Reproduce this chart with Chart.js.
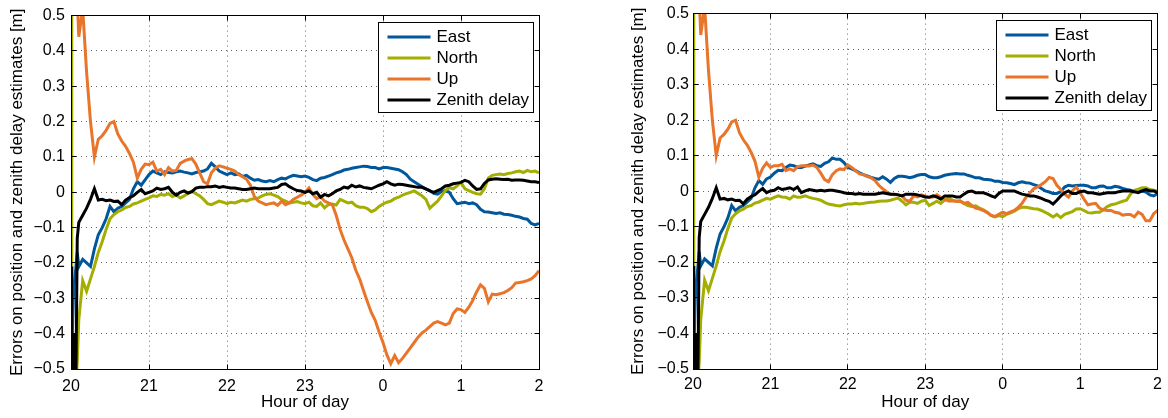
<!DOCTYPE html>
<html>
<head>
<meta charset="utf-8">
<title>Position and zenith delay errors</title>
<script src="https://cdn.jsdelivr.net/npm/chart.js@4.4.1/dist/chart.umd.min.js"></script>
<style>
  html, body { margin: 0; padding: 0; background: #fff; }
  #wrap { position: relative; width: 1168px; height: 418px; overflow: hidden; }
  .panel { position: absolute; top: 0; width: 584px; height: 418px; }
</style>
</head>
<body>
<div id="wrap">
  <div class="panel" style="left:0"><canvas id="chartLeft" width="584" height="418"></canvas></div>
  <div class="panel" style="left:584px"><canvas id="chartRight" width="584" height="418"></canvas></div>
</div>
<script>
// Sample times in hours, 20:00 to 02:00 the next day (24 = midnight)
const HOURS = [
  20.00, 20.01, 20.02, 20.03, 20.04, 20.06, 20.08, 20.10,
  20.15, 20.20, 20.25, 20.30, 20.35, 20.40, 20.45, 20.50, 20.55, 20.60,
  20.65, 20.70, 20.75, 20.80, 20.85, 20.90, 20.95, 21.00, 21.05, 21.10,
  21.15, 21.20, 21.25, 21.30, 21.35, 21.40, 21.45, 21.50, 21.55, 21.60,
  21.65, 21.70, 21.75, 21.80, 21.85, 21.90, 21.95, 22.00, 22.05, 22.10,
  22.15, 22.20, 22.25, 22.30, 22.35, 22.40, 22.45, 22.50, 22.55, 22.60,
  22.65, 22.70, 22.75, 22.80, 22.85, 22.90, 22.95, 23.00, 23.05, 23.10,
  23.15, 23.20, 23.25, 23.30, 23.35, 23.40, 23.45, 23.50, 23.55, 23.60,
  23.65, 23.70, 23.75, 23.80, 23.85, 23.90, 23.95, 24.00, 24.05, 24.10,
  24.15, 24.20, 24.25, 24.30, 24.35, 24.40, 24.45, 24.50, 24.55, 24.60,
  24.65, 24.70, 24.75, 24.80, 24.85, 24.90, 24.95, 25.00, 25.05, 25.10,
  25.15, 25.20, 25.25, 25.30, 25.35, 25.40, 25.45, 25.50, 25.55, 25.60,
  25.65, 25.70, 25.75, 25.80, 25.85, 25.90, 25.95, 26.00
];

// Axis ticks and their labels
const X_TICKS = [20, 21, 22, 23, 24, 25, 26];
const X_LABELS = ['20', '21', '22', '23', '0', '1', '2'];
const Y_TICKS = [-0.5, -0.4, -0.3, -0.2, -0.1, 0, 0.1, 0.2, 0.3, 0.4, 0.5];
const Y_LABELS = ['\u22120.5', '\u22120.4', '\u22120.3', '\u22120.2', '\u22120.1', '0',
                  '0.1', '0.2', '0.3', '0.4', '0.5'];

const SERIES_NAMES = ['East', 'North', 'Up', 'Zenith delay'];

// ---- First run: errors in metres ----
const EAST_A = [
  -0.25, -0.45, -0.38, -0.30, -0.26, -0.22, -0.17, -0.21,
  -0.19, -0.20, -0.21, -0.16, -0.12, -0.10, -0.075, -0.04, -0.055, -0.045,
  -0.04, -0.03, -0.02, 0.01, 0.03, 0.02, 0.035, 0.05, 0.06, 0.055,
  0.05, 0.058, 0.056, 0.055, 0.058, 0.06, 0.057, 0.055, 0.052, 0.056,
  0.058, 0.06, 0.066, 0.082, 0.072, 0.06, 0.055, 0.05, 0.055, 0.05,
  0.052, 0.045, 0.048, 0.04, 0.034, 0.036, 0.032, 0.03, 0.033, 0.03,
  0.036, 0.04, 0.038, 0.044, 0.048, 0.046, 0.044, 0.046, 0.042, 0.036,
  0.033, 0.04, 0.042, 0.046, 0.05, 0.055, 0.058, 0.063, 0.065, 0.068,
  0.07, 0.072, 0.074, 0.073, 0.07, 0.07, 0.066, 0.07, 0.07, 0.068,
  0.066, 0.064, 0.058, 0.05, 0.037, 0.03, 0.023, 0.016, 0.009, 0.005,
  -0.003, -0.005, 0.002, 0.005, 0.0, -0.018, -0.032, -0.03, -0.028, -0.032,
  -0.03, -0.035, -0.048, -0.055, -0.056, -0.058, -0.06, -0.058, -0.062, -0.063,
  -0.065, -0.068, -0.07, -0.074, -0.076, -0.088, -0.092, -0.088
];
const NORTH_A = [
  0.7, -0.7, -0.7, -0.65, -0.6, -0.55, -0.48, -0.36,
  -0.25, -0.28, -0.245, -0.21, -0.17, -0.14, -0.105, -0.075, -0.063, -0.055,
  -0.05, -0.043, -0.04, -0.033, -0.03, -0.025, -0.02, -0.016, -0.01, -0.012,
  -0.006, -0.008, -0.004, -0.012, -0.008, -0.016, -0.01, -0.003, 0.003, -0.004,
  -0.01, -0.02, -0.032, -0.035, -0.03, -0.025, -0.028, -0.032, -0.028, -0.03,
  -0.026, -0.022, -0.025, -0.02, -0.018, -0.016, -0.01, -0.006, -0.004, -0.008,
  -0.012, -0.02, -0.025, -0.03, -0.028, -0.026, -0.03, -0.032, -0.028, -0.038,
  -0.04, -0.03, -0.044, -0.035, -0.033, -0.036, -0.02, -0.025, -0.03, -0.028,
  -0.038, -0.042, -0.042, -0.046, -0.055, -0.05, -0.04, -0.033, -0.028, -0.025,
  -0.018, -0.014, -0.008, -0.004, 0.0, 0.004, -0.003, -0.01, -0.02, -0.045,
  -0.035, -0.025, -0.01, 0.005, 0.013, 0.01, 0.018, 0.028, 0.01, 0.005,
  0.0, -0.004, -0.005, 0.01, 0.04, 0.048, 0.05, 0.052, 0.05, 0.053,
  0.055, 0.058, 0.06, 0.056, 0.062, 0.058, 0.06, 0.055
];
const UP_A = [
  0.9, 0.9, 0.85, 0.8, 0.75, 0.7, 0.55, 0.44,
  0.52, 0.34, 0.2, 0.1, 0.15, 0.16, 0.175, 0.195, 0.2, 0.165,
  0.145, 0.13, 0.11, 0.085, 0.04, 0.065, 0.08, 0.078, 0.085, 0.06,
  0.065, 0.05, 0.07, 0.06, 0.062, 0.082, 0.088, 0.093, 0.095, 0.08,
  0.055, 0.03, 0.024, 0.055, 0.068, 0.075, 0.072, 0.068, 0.065, 0.06,
  0.05, 0.044, 0.037, 0.02, -0.012, -0.025, -0.03, -0.035, -0.032, -0.03,
  -0.037, -0.025, -0.035, -0.03, -0.02, -0.014, -0.008, 0.0, 0.012, -0.006,
  -0.018, -0.012, -0.025, -0.03, -0.035, -0.065, -0.105, -0.135, -0.16, -0.185,
  -0.22, -0.245, -0.278, -0.31, -0.34, -0.362, -0.395, -0.425, -0.46, -0.485,
  -0.462, -0.482, -0.47, -0.455, -0.44, -0.425, -0.41, -0.398, -0.39, -0.38,
  -0.37, -0.366, -0.37, -0.375, -0.37, -0.343, -0.33, -0.332, -0.34, -0.325,
  -0.306, -0.282, -0.262, -0.272, -0.31, -0.288, -0.29, -0.287, -0.284, -0.278,
  -0.27, -0.257, -0.255, -0.253, -0.25, -0.245, -0.236, -0.222
];
const ZENITH_A = [
  -0.21, -0.4, -0.6, -0.55, -0.4, -0.6, -0.13, -0.085,
  -0.065, -0.045, -0.02, 0.01, -0.022, -0.02, -0.024, -0.022, -0.026, -0.025,
  -0.035, -0.022, -0.015, -0.01, 0.0, 0.008, -0.004, 0.0, 0.004, 0.012,
  0.008, 0.01, 0.014, 0.0, -0.008, 0.0, 0.004, -0.002, 0.002, 0.012,
  0.014, 0.014, 0.016, 0.016, 0.018, 0.014, 0.016, 0.014, 0.012, 0.012,
  0.01, 0.008, 0.008, 0.01, 0.012, 0.01, 0.01, 0.01, 0.01, 0.012,
  0.014, 0.022, 0.024, 0.016, 0.01, 0.005, 0.004, 0.0, 0.004, -0.004,
  0.0, -0.014, -0.006, -0.01, -0.004, 0.004, 0.008, 0.015, 0.012, 0.02,
  0.015, 0.018, 0.014, 0.012, 0.01, 0.015, 0.02, 0.024, 0.03, 0.024,
  0.02, 0.023, 0.022, 0.02, 0.018, 0.016, 0.014, 0.014, 0.01, 0.004,
  0.0, 0.005, 0.01, 0.018, 0.02, 0.024, 0.026, 0.028, 0.034, 0.03,
  0.018, 0.008, 0.01, 0.025, 0.035, 0.037, 0.038, 0.037, 0.036, 0.037,
  0.034, 0.035, 0.035, 0.034, 0.032, 0.03, 0.03, 0.028
];

// ---- Second run: errors in metres ----
const EAST_B = [
  -0.25, -0.45, -0.38, -0.30, -0.26, -0.22, -0.17, -0.21,
  -0.19, -0.20, -0.21, -0.16, -0.12, -0.10, -0.075, -0.04, -0.055, -0.045,
  -0.04, -0.03, -0.02, 0.01, 0.03, 0.02, 0.035, 0.04, 0.051, 0.059,
  0.058, 0.067, 0.074, 0.072, 0.067, 0.067, 0.071, 0.074, 0.077, 0.072,
  0.07, 0.079, 0.083, 0.094, 0.09, 0.09, 0.081, 0.067, 0.063, 0.058,
  0.052, 0.047, 0.043, 0.039, 0.036, 0.034, 0.041, 0.034, 0.025, 0.036,
  0.042, 0.042, 0.041, 0.038, 0.041, 0.045, 0.047, 0.047, 0.041, 0.038,
  0.038, 0.041, 0.045, 0.047, 0.049, 0.05, 0.049, 0.049, 0.045, 0.042,
  0.038, 0.038, 0.034, 0.033, 0.032, 0.028, 0.028, 0.025, 0.024, 0.022,
  0.019, 0.024, 0.027, 0.024, 0.023, 0.019, 0.015, 0.008, 0.001, -0.002,
  -0.006, -0.006, -0.001, 0.012, 0.017, 0.015, 0.016, 0.017, 0.017, 0.015,
  0.01, 0.01, 0.014, 0.015, 0.01, 0.01, 0.014, 0.012, 0.008, 0.005,
  0.003, -0.001, -0.002, 0.001, -0.002, -0.01, -0.013, -0.006
];
const NORTH_B = [
  0.7, -0.7, -0.7, -0.65, -0.6, -0.55, -0.48, -0.36,
  -0.25, -0.28, -0.245, -0.21, -0.17, -0.14, -0.105, -0.075, -0.063, -0.055,
  -0.05, -0.043, -0.04, -0.033, -0.03, -0.025, -0.02, -0.022, -0.017, -0.013,
  -0.016, -0.017, -0.022, -0.013, -0.017, -0.016, -0.013, -0.017, -0.02, -0.022,
  -0.025, -0.031, -0.036, -0.038, -0.04, -0.041, -0.038, -0.036, -0.036, -0.034,
  -0.036, -0.034, -0.032, -0.031, -0.03, -0.028, -0.027, -0.027, -0.025, -0.022,
  -0.019, -0.028, -0.038, -0.031, -0.031, -0.034, -0.028, -0.025, -0.04, -0.034,
  -0.028, -0.034, -0.025, -0.019, -0.025, -0.028, -0.027, -0.034, -0.04, -0.043,
  -0.041, -0.047, -0.052, -0.059, -0.068, -0.072, -0.068, -0.071, -0.065, -0.061,
  -0.056, -0.049, -0.045, -0.045, -0.047, -0.049, -0.05, -0.054, -0.059, -0.065,
  -0.072, -0.065, -0.074, -0.065, -0.061, -0.057, -0.05, -0.049, -0.054, -0.06,
  -0.061, -0.059, -0.059, -0.052, -0.043, -0.038, -0.036, -0.032, -0.028, -0.025,
  -0.008, 0.003, 0.006, 0.01, 0.01, 0.005, 0.003, 0.001
];
const UP_B = [
  0.9, 0.9, 0.85, 0.8, 0.75, 0.7, 0.55, 0.44,
  0.52, 0.34, 0.2, 0.1, 0.15, 0.16, 0.175, 0.195, 0.2, 0.165,
  0.145, 0.13, 0.11, 0.085, 0.04, 0.065, 0.08, 0.067, 0.072, 0.072,
  0.076, 0.058, 0.063, 0.058, 0.069, 0.072, 0.072, 0.071, 0.074, 0.067,
  0.051, 0.033, 0.027, 0.047, 0.058, 0.063, 0.061, 0.074, 0.067, 0.058,
  0.049, 0.047, 0.042, 0.038, 0.03, 0.017, 0.007, -0.001, -0.008, -0.01,
  -0.01, -0.013, -0.025, -0.028, -0.013, -0.016, -0.01, -0.014, -0.017, -0.016,
  -0.01, -0.017, -0.023, -0.027, -0.027, -0.028, -0.028, -0.034, -0.031, -0.04,
  -0.047, -0.05, -0.054, -0.06, -0.068, -0.071, -0.065, -0.059, -0.063, -0.058,
  -0.054, -0.045, -0.034, -0.017, -0.005, 0.007, 0.012, 0.019, 0.027, 0.039,
  0.036, 0.017, 0.005, -0.008, -0.016, 0.001, 0.012, -0.004, -0.022, -0.038,
  -0.036, -0.034, -0.047, -0.052, -0.054, -0.054, -0.059, -0.061, -0.067, -0.065,
  -0.065, -0.072, -0.059, -0.065, -0.083, -0.083, -0.063, -0.054
];
const ZENITH_B = [
  -0.21, -0.4, -0.6, -0.55, -0.4, -0.6, -0.13, -0.085,
  -0.065, -0.045, -0.02, 0.01, -0.022, -0.02, -0.024, -0.022, -0.026, -0.025,
  -0.035, -0.022, -0.015, -0.01, 0.0, 0.008, -0.004, 0.001, 0.003, 0.01,
  0.005, 0.007, 0.01, 0.005, 0.012, -0.004, 0.001, 0.005, 0.003, 0.001,
  0.003, 0.001, 0.003, 0.003, 0.001, -0.001, -0.004, -0.006, -0.006, -0.008,
  -0.006, -0.008, -0.008, -0.008, -0.008, -0.006, -0.004, -0.006, -0.008, -0.008,
  -0.01, -0.013, -0.008, -0.008, -0.008, -0.01, -0.013, -0.016, -0.017, -0.013,
  -0.016, -0.022, -0.013, -0.013, -0.013, -0.016, -0.016, -0.008, -0.001, 0.001,
  -0.004, -0.004, -0.004, -0.008, -0.013, -0.017, -0.006, 0.001, 0.001, 0.001,
  0.001, -0.004, -0.008, -0.01, -0.013, -0.013, -0.016, -0.02, -0.025, -0.028,
  -0.036, -0.025, -0.013, -0.004, 0.001, -0.006, -0.006, -0.001, 0.001, -0.004,
  -0.004, -0.006, -0.008, -0.006, -0.004, -0.004, -0.004, -0.001, 0.001, 0.001,
  0.001, -0.001, -0.004, 0.001, 0.005, 0.001, 0.001, -0.004
];

const FONT_FAMILY = '"Liberation Sans", Arial, Helvetica, sans-serif';
const LINE_COLORS = ['#00579c', '#a3ae00', '#e8752a', '#000000'];

Chart.defaults.font.family = FONT_FAMILY;
Chart.defaults.color = '#000';

/**
 * Round a coordinate so a 1px line lands on a single pixel row/column
 */
function crisp(p) {
    return Math.round(p - 0.5) + 0.5;
}

/**
 * Black frame round the plot area with short inward tick marks on all four sides
 */
const axesFrame = {
    id: 'axesFrame',
    afterDraw(chart) {
        const { ctx, chartArea: a, scales } = chart;
        const left = crisp(a.left), right = crisp(a.right);
        const top = crisp(a.top), bottom = crisp(a.bottom);
        const len = 5;

        ctx.save();
        ctx.strokeStyle = '#000';
        ctx.lineWidth = 1;
        ctx.beginPath();
        scales.x.ticks.forEach(t => {
            const px = crisp(scales.x.getPixelForValue(t.value));
            ctx.moveTo(px, bottom); ctx.lineTo(px, bottom - len);
            ctx.moveTo(px, top); ctx.lineTo(px, top + len);
        });
        scales.y.ticks.forEach(t => {
            const py = crisp(scales.y.getPixelForValue(t.value));
            ctx.moveTo(left, py); ctx.lineTo(left + len, py);
            ctx.moveTo(right, py); ctx.lineTo(right - len, py);
        });
        ctx.stroke();
        ctx.strokeRect(left, top, right - left, bottom - top);
        ctx.restore();
    }
};

/**
 * Boxed legend in the upper right corner of the plot area
 */
const boxLegend = {
    id: 'boxLegend',
    afterDatasetsDraw(chart, args, opts) {
        const { ctx, chartArea: a } = chart;
        const left = crisp(a.right - opts.inset - opts.width);
        const top = crisp(a.top + opts.inset + 1);

        ctx.save();
        ctx.fillStyle = '#fff';
        ctx.fillRect(left, top, opts.width, opts.height);
        ctx.strokeStyle = '#000';
        ctx.lineWidth = 1;
        ctx.strokeRect(left, top, opts.width, opts.height);

        ctx.font = '17px ' + FONT_FAMILY;
        ctx.textBaseline = 'middle';
        chart.data.datasets.forEach((ds, i) => {
            const rowY = top + 14.5 + i * 21;
            ctx.strokeStyle = ds.borderColor;
            ctx.lineWidth = 3;
            ctx.beginPath();
            ctx.moveTo(left + 9, rowY);
            ctx.lineTo(left + 52, rowY);
            ctx.stroke();
            ctx.fillStyle = '#000';
            ctx.fillText(ds.label, left + 58, rowY);
        });
        ctx.restore();
    }
};

/**
 * Build one panel: four error series against hour of day
 */
function buildPanel(canvasId, series, box) {
    const datasets = series.map((values, i) => ({
        label: SERIES_NAMES[i],
        data: values.map((v, j) => ({ x: HOURS[j], y: v })),
        borderColor: LINE_COLORS[i],
        borderWidth: 3,
        pointRadius: 0,
        tension: 0,
        clip: 0,
        // later series sit on top, zenith delay last
        order: series.length - 1 - i
    }));

    const gridStyle = { color: 'rgba(0,0,0,0.6)', lineWidth: 1, drawTicks: false };

    return new Chart(document.getElementById(canvasId), {
        type: 'line',
        data: { datasets: datasets },
        options: {
            responsive: false,
            animation: false,
            devicePixelRatio: 1,
            layout: { padding: box.padding },
            plugins: {
                legend: { display: false },
                tooltip: { enabled: false },
                boxLegend: { width: 155, height: 90, inset: 6 }
            },
            scales: {
                x: {
                    type: 'linear',
                    min: 20,
                    max: 26,
                    afterBuildTicks: scale => { scale.ticks = X_TICKS.map(v => ({ value: v })); },
                    afterFit: scale => { scale.height = box.xHeight; },
                    grid: gridStyle,
                    border: { display: false, dash: [1, 4] },
                    ticks: {
                        font: { size: 16 },
                        padding: box.xTickPad,
                        maxRotation: 0,
                        callback: (v, i) => X_LABELS[i]
                    },
                    title: {
                        display: true,
                        text: 'Hour of day',
                        font: { size: 17 },
                        padding: { top: 0, bottom: 0 }
                    }
                },
                y: {
                    type: 'linear',
                    min: -0.5,
                    max: 0.5,
                    afterBuildTicks: scale => { scale.ticks = Y_TICKS.map(v => ({ value: v })); },
                    afterFit: scale => { scale.width = box.yWidth; },
                    grid: gridStyle,
                    border: { display: false, dash: [1, 4] },
                    ticks: {
                        font: { size: 16 },
                        padding: box.yTickPad,
                        callback: (v, i) => Y_LABELS[i]
                    },
                    title: {
                        display: true,
                        text: 'Errors on position and zenith delay estimates [m]',
                        font: { size: 17 },
                        padding: { top: box.yTitlePad, bottom: 0 }
                    }
                }
            }
        },
        plugins: [boxLegend, axesFrame]
    });
}

buildPanel('chartLeft', [EAST_A, NORTH_A, UP_A, ZENITH_A], {
    padding: { left: 0, right: 45, top: 10, bottom: 5 },
    yWidth: 71, xHeight: 44, yTitlePad: 7, yTickPad: 6, xTickPad: 8
});

buildPanel('chartRight', [EAST_B, NORTH_B, UP_B, ZENITH_B], {
    padding: { left: 0, right: 7, top: 5, bottom: 5 },
    yWidth: 109, xHeight: 44, yTitlePad: 44, yTickPad: 4, xTickPad: 6
});
</script>
</body>
</html>
